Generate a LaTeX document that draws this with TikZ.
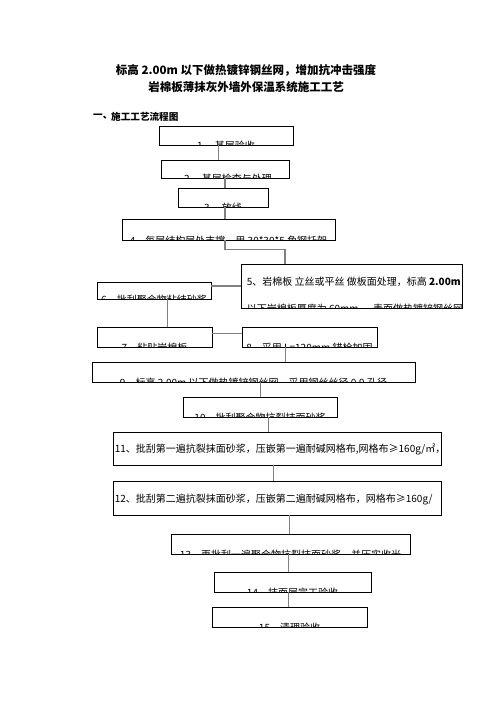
\documentclass[tikz,border=0pt]{standalone}
\usepackage{fontspec}
\newfontfamily\cjk{Noto Sans CJK SC}
\usepackage{xcolor}
\colorlet{colorBox}{black}
\colorlet{colorLink}{black!50}
\usepackage{tikz}
\usetikzlibrary{calc, fit}
\tikzset{
  procbox/.style={draw=colorBox, line width=0.8pt, inner sep=0pt},
  steptext/.style={anchor=base, inner sep=0pt, font=\cjk\fontsize{10}{12}\selectfont},
  linetext/.style={anchor=base west, inner sep=0pt, font=\cjk\fontsize{10}{12}\selectfont},
  titletext/.style={inner sep=0pt, font=\cjk\bfseries\fontsize{11.5}{14}\selectfont},
  headtext/.style={anchor=west, inner sep=0pt, font=\cjk\bfseries\fontsize{9.6}{12}\selectfont},
  link/.style={draw=colorLink, line width=0.8pt},
  thicklink/.style={draw=colorLink, line width=1.6pt}
}

\begin{document}
\begin{tikzpicture}[x=1pt, y=-1pt]
\useasboundingbox (0,0) rectangle (496,702);
% title
\node[titletext] (title1) at (246,70) {标高 2.00m 以下做热镀锌钢丝网，增加抗冲击强度};
\node[titletext] (title2) at (246,87) {岩棉板薄抹灰外墙外保温系统施工工艺};
\node[headtext] (head1) at (93,117) {一、};
\node[headtext] (head2) at (111,117) {施工工艺流程图};
% boxes
\node[procbox, fit={(159,126) (293,145)}] (b1) {};
\node[procbox, fit={(161,160) (289,178)}] (b2) {};
\node[procbox, fit={(178,188) (268,207)}] (b3) {};
\node[procbox, fit={(122,219) (335,240)}] (b4) {};
\node[procbox, fit={(241,264) (462,308)}] (b5) {};
\node[procbox, fit={(97,282) (211,299)}] (b6) {};
\node[procbox, fit={(97,327) (212,347)}] (b7) {};
\node[procbox, fit={(242,327) (377,347)}] (b8) {};
\node[procbox, fit={(92,362) (415,382)}] (b9) {};
\node[procbox, fit={(183,397) (337,417)}] (b10) {};
\node[procbox, fit={(113,432) (441,465)}] (b11) {};
\node[procbox, fit={(113,481) (441,515)}] (b12) {};
\node[procbox, fit={(171,534) (410,554)}] (b13) {};
\node[procbox, fit={(214,572) (371,592)}] (b14) {};
\node[procbox, fit={(212,607) (367,627)}] (b15) {};
% texts, cut off by their boxes
\begin{scope}\clip (b1.south west) rectangle (b1.north east);
\node[steptext] (t1) at ($(b1.south)+(0,4)$) {1、 基层验收};\end{scope}
\begin{scope}\clip (b2.south west) rectangle (b2.north east);
\node[steptext] (t2) at ($(b2.south)+(3,4)$) {2、 基层检查与处理};\end{scope}
\begin{scope}\clip (b3.south west) rectangle (b3.north east);
\node[steptext] (t3) at ($(b3.south)+(0,4)$) {3、 放线};\end{scope}
\begin{scope}\clip (b4.south west) rectangle (b4.north east);
\node[steptext] (t4) at ($(b4.south)+(0,4)$) {4、每层结构层处支撑，用 30*30*5 角钢托架};\end{scope}
\begin{scope}\clip (b5.south west) rectangle (b5.north east);
\node[linetext] (t5a) at ($(b5.north west)+(6,22)$) {5、岩棉板 立丝或平丝 做板面处理，标高 \textbf{2.00m}};
\node[linetext] (t5b) at ($(b5.north west)+(6,49)$) {以下岩棉板厚度为 60mm ， 表面做热镀锌钢丝网};\end{scope}
\begin{scope}\clip (b6.south west) rectangle (b6.north east);
\node[steptext] (t6) at ($(b6.south)+(0,4)$) {6、批刮聚合物粘结砂浆};\end{scope}
\begin{scope}\clip (b7.south west) rectangle (b7.north east);
\node[steptext] (t7) at ($(b7.south)+(0,4)$) {7、粘贴岩棉板};\end{scope}
\begin{scope}\clip (b8.south west) rectangle (b8.north east);
\node[steptext] (t8) at ($(b8.south)+(0,4)$) {8、采用 L=120mm 锚栓加固};\end{scope}
\begin{scope}\clip (b9.south west) rectangle (b9.north east);
\node[steptext] (t9) at ($(b9.south)+(0,4)$) {9、标高 2.00m 以下做热镀锌钢丝网，采用钢丝丝径 0.9 孔径};\end{scope}
\begin{scope}\clip (b10.south west) rectangle (b10.north east);
\node[steptext] (t10) at ($(b10.south)+(0,4)$) {10、批刮聚合物抗裂抹面砂浆};\end{scope}
\begin{scope}\clip (b11.south west) rectangle (b11.north east);
\node[linetext] (t11) at ($(b11.west)+(2,4)$) {11、批刮第一遍抗裂抹面砂浆，压嵌第一遍耐碱网格布,网格布≥160g/㎡，};\end{scope}
\begin{scope}\clip (b12.south west) rectangle (b12.north east);
\node[linetext] (t12) at ($(b12.west)+(2,4)$) {12、批刮第二遍抗裂抹面砂浆，压嵌第二遍耐碱网格布，网格布≥160g/};\end{scope}
\begin{scope}\clip (b13.south west) rectangle (b13.north east);
\node[steptext] (t13) at ($(b13.south)+(0,4)$) {13、再批刮一遍聚合物抗裂抹面砂浆，并压实收光};\end{scope}
\begin{scope}\clip (b14.south west) rectangle (b14.north east);
\node[steptext] (t14) at ($(b14.south)+(0,4)$) {14、抹面层完工验收};\end{scope}
\begin{scope}\clip (b15.south west) rectangle (b15.north east);
\node[steptext] (t15) at ($(b15.south)+(0,4)$) {15、清理验收};\end{scope}
% connectors
\draw[link] (218,0 |- b1.south) -- (218,0 |- b2.north);
\draw[thicklink] (225,0 |- b2.south) -- (225,0 |- b3.north);
\draw[thicklink] (225,0 |- b3.south) -- (225,0 |- b4.north);
\draw[thicklink] (225,0 |- b4.south) -- ++(0,9) -| (285,0 |- b5.north);
\draw[thicklink] (b5.west) -- (b6.east |- b5.west);
\draw[link] (167,0 |- b6.south) -- (167,0 |- b7.north);
\draw[link] (b7.east |- 0,333) -- (b8.west |- 0,333);
\draw[link] (285,0 |- b8.south) -- (285,0 |- b9.north);
\draw[link] (260,0 |- b9.south) -- (260,0 |- b10.north);
\draw[link] (268,0 |- b10.south) -- (268,0 |- b11.north);
\draw[link] (273,0 |- b11.south) -- (273,0 |- b12.north);
\draw[link] (289,0 |- b12.south) -- (289,0 |- b13.north);
\draw[link] (288,0 |- b13.south) -- (288,0 |- b14.north);
\draw[link] (288,0 |- b14.south) -- (288,0 |- b15.north);
\end{tikzpicture}
\end{document}
